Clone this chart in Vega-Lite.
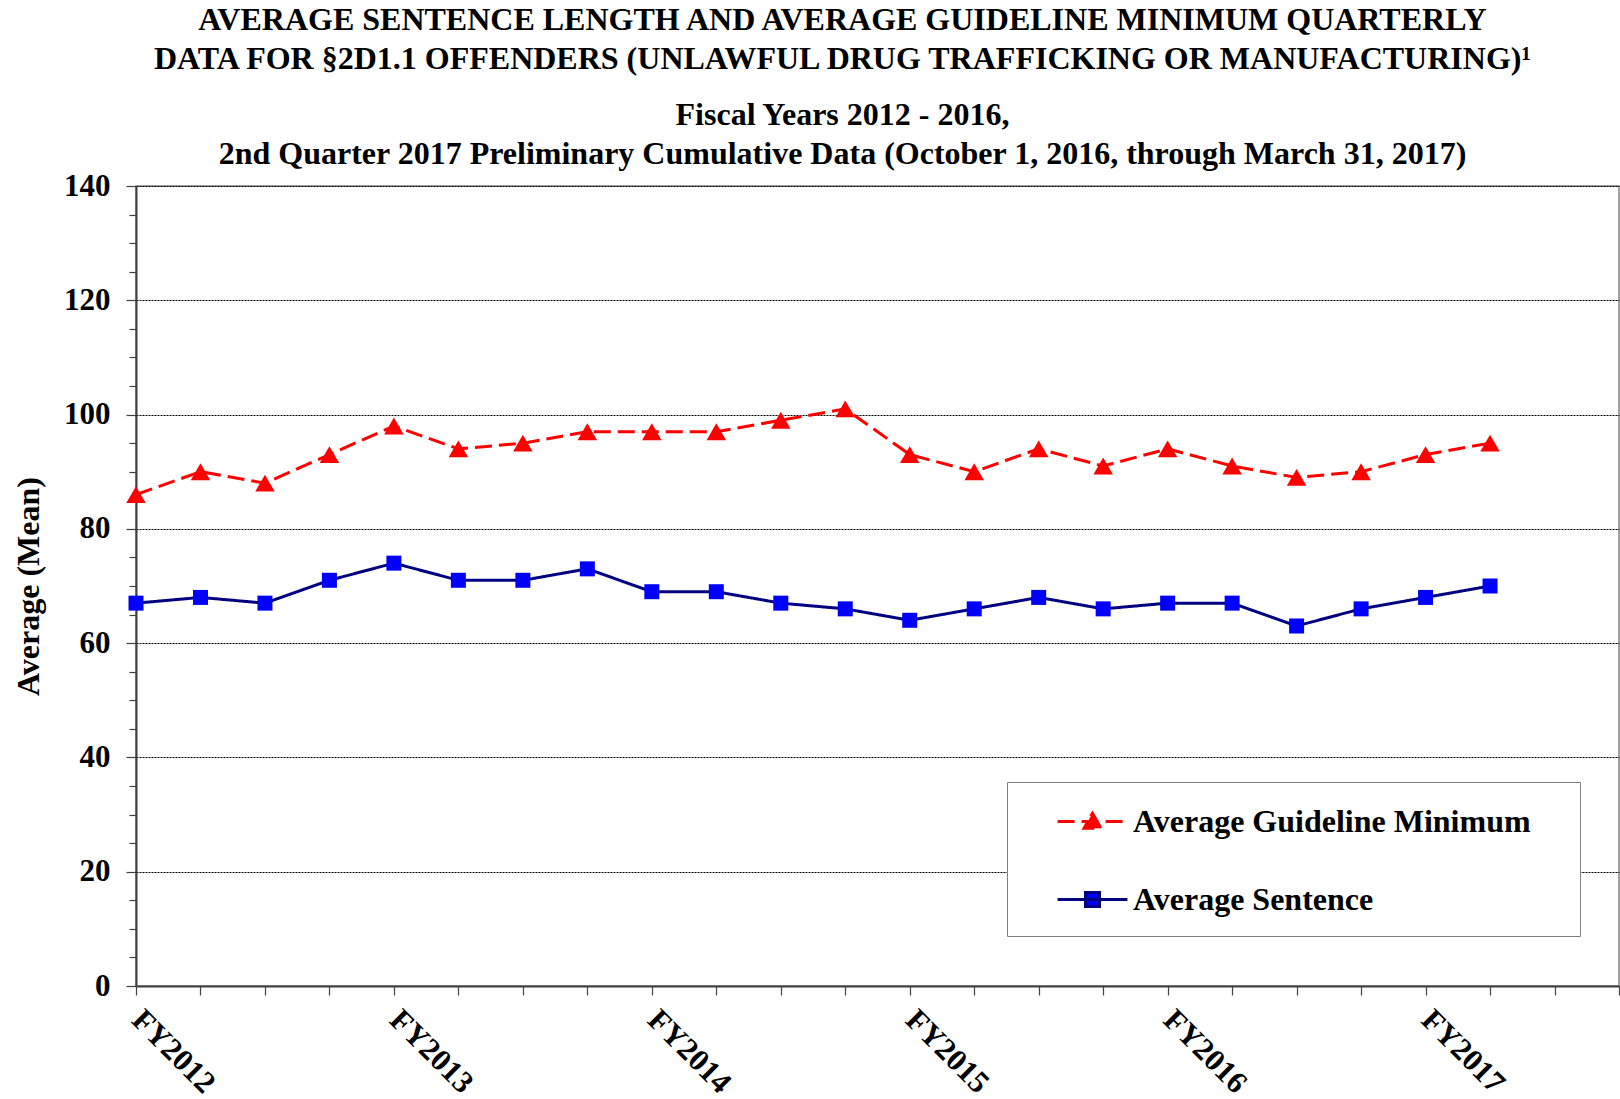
{
  "$schema": "https://vega.github.io/schema/vega-lite/v6.json",
  "autosize": "none",
  "width": 1483,
  "height": 800,
  "padding": {"left": 136, "top": 186, "right": 1, "bottom": 113},
  "background": "white",
  "config": {
    "font": "Liberation Serif",
    "view": {"stroke": "#808080", "strokeWidth": 1.5}
  },
  "title": {
    "text": ["AVERAGE SENTENCE LENGTH AND AVERAGE GUIDELINE MINIMUM QUARTERLY", "DATA FOR §2D1.1 OFFENDERS (UNLAWFUL DRUG TRAFFICKING OR MANUFACTURING)¹"],
    "subtitle": ["Fiscal Years 2012 - 2016,", "2nd Quarter 2017 Preliminary Cumulative Data (October 1, 2016, through March 31, 2017)"],
    "font": "Liberation Serif",
    "fontSize": 32,
    "fontWeight": "bold",
    "color": "black",
    "subtitleFont": "Liberation Serif",
    "subtitleFontSize": 32,
    "subtitleFontWeight": "bold",
    "subtitleColor": "black",
    "lineHeight": 39,
    "subtitleLineHeight": 39,
    "subtitlePadding": 24,
    "anchor": "middle",
    "frame": "group",
    "offset": -1,
    "dx": -35
  },
  "data": {
    "values": [
      {"q": 0, "series": "Average Guideline Minimum", "value": 86},
      {"q": 1, "series": "Average Guideline Minimum", "value": 90},
      {"q": 2, "series": "Average Guideline Minimum", "value": 88},
      {"q": 3, "series": "Average Guideline Minimum", "value": 93},
      {"q": 4, "series": "Average Guideline Minimum", "value": 98},
      {"q": 5, "series": "Average Guideline Minimum", "value": 94},
      {"q": 6, "series": "Average Guideline Minimum", "value": 95},
      {"q": 7, "series": "Average Guideline Minimum", "value": 97},
      {"q": 8, "series": "Average Guideline Minimum", "value": 97},
      {"q": 9, "series": "Average Guideline Minimum", "value": 97},
      {"q": 10, "series": "Average Guideline Minimum", "value": 99},
      {"q": 11, "series": "Average Guideline Minimum", "value": 101},
      {"q": 12, "series": "Average Guideline Minimum", "value": 93},
      {"q": 13, "series": "Average Guideline Minimum", "value": 90},
      {"q": 14, "series": "Average Guideline Minimum", "value": 94},
      {"q": 15, "series": "Average Guideline Minimum", "value": 91},
      {"q": 16, "series": "Average Guideline Minimum", "value": 94},
      {"q": 17, "series": "Average Guideline Minimum", "value": 91},
      {"q": 18, "series": "Average Guideline Minimum", "value": 89},
      {"q": 19, "series": "Average Guideline Minimum", "value": 90},
      {"q": 20, "series": "Average Guideline Minimum", "value": 93},
      {"q": 21, "series": "Average Guideline Minimum", "value": 95},
      {"q": 0, "series": "Average Sentence", "value": 67},
      {"q": 1, "series": "Average Sentence", "value": 68},
      {"q": 2, "series": "Average Sentence", "value": 67},
      {"q": 3, "series": "Average Sentence", "value": 71},
      {"q": 4, "series": "Average Sentence", "value": 74},
      {"q": 5, "series": "Average Sentence", "value": 71},
      {"q": 6, "series": "Average Sentence", "value": 71},
      {"q": 7, "series": "Average Sentence", "value": 73},
      {"q": 8, "series": "Average Sentence", "value": 69},
      {"q": 9, "series": "Average Sentence", "value": 69},
      {"q": 10, "series": "Average Sentence", "value": 67},
      {"q": 11, "series": "Average Sentence", "value": 66},
      {"q": 12, "series": "Average Sentence", "value": 64},
      {"q": 13, "series": "Average Sentence", "value": 66},
      {"q": 14, "series": "Average Sentence", "value": 68},
      {"q": 15, "series": "Average Sentence", "value": 66},
      {"q": 16, "series": "Average Sentence", "value": 67},
      {"q": 17, "series": "Average Sentence", "value": 67},
      {"q": 18, "series": "Average Sentence", "value": 63},
      {"q": 19, "series": "Average Sentence", "value": 66},
      {"q": 20, "series": "Average Sentence", "value": 68},
      {"q": 21, "series": "Average Sentence", "value": 70}
    ]
  },
  "encoding": {
    "x": {
      "field": "q", "type": "quantitative",
      "scale": {"domain": [0, 23], "nice": false, "zero": false},
      "axis": {
        "title": null,
        "values": [0,1,2,3,4,5,6,7,8,9,10,11,12,13,14,15,16,17,18,19,20,21,22,23],
        "labelExpr": "datum.value % 4 == 0 && datum.value <= 20 ? 'FY' + (2012 + datum.value / 4) : ''",
        "labelAngle": 45,
        "labelAlign": "left",
        "labelBaseline": "middle",
        "labelPadding": 20,
        "labelFlush": false,
        "labelOverlap": false,
        "labelFont": "Liberation Serif",
        "labelFontSize": 31,
        "labelFontWeight": "bold",
        "labelColor": "black",
        "grid": false,
        "domainColor": "#404040",
        "domainWidth": 2,
        "tickColor": "#404040",
        "tickWidth": 1.2,
        "tickSize": 9
      }
    },
    "y": {
      "field": "value", "type": "quantitative",
      "scale": {"domain": [0, 140], "nice": false},
      "axis": {
        "title": "Average (Mean)",
        "titleFont": "Liberation Serif",
        "titleFontSize": 32,
        "titleFontWeight": "bold",
        "titleColor": "black",
        "titleX": -108,
        "titleY": 400,
        "titleAngle": -90,
        "titleAlign": "center",
        "titleBaseline": "middle",
        "values": [0,5,10,15,20,25,30,35,40,45,50,55,60,65,70,75,80,85,90,95,100,105,110,115,120,125,130,135,140],
        "labelExpr": "datum.value % 20 == 0 ? datum.label : ''",
        "labelFont": "Liberation Serif",
        "labelFontSize": 31,
        "labelFontWeight": "bold",
        "labelColor": "black",
        "labelPadding": 16,
        "labelOverlap": false,
        "labelFlush": false,
        "grid": true,
        "gridColor": "black",
        "gridDash": [2, 1],
        "gridWidth": 1,
        "gridOpacity": {"condition": {"test": "datum.value % 20 == 0", "value": 1}, "value": 0},
        "tickSize": {"condition": {"test": "datum.value % 20 == 0", "value": 10}, "value": 7},
        "domainColor": "#404040",
        "domainWidth": 2,
        "tickColor": "#404040",
        "tickWidth": 1.2
      }
    }
  },
  "layer": [
    {
      "mark": {"type": "line", "strokeWidth": 3},
      "encoding": {
        "color": {
          "field": "series", "type": "nominal",
          "scale": {"domain": ["Average Guideline Minimum", "Average Sentence"], "range": ["#FF0000", "#000080"]},
          "legend": {
            "title": "x",
            "titleOrient": "right",
            "titleOpacity": 0,
            "titleFontSize": 8,
            "titlePadding": 25,
            "orient": "none",
            "legendX": 871,
            "legendY": 596,
            "strokeColor": "#808080",
            "fillColor": "white",
            "padding": 20,
            "symbolType": "M-1,0H1",
            "symbolSize": 1296,
            "symbolStrokeWidth": 3,
            "symbolOffset": 46,
            "labelFont": "Liberation Serif",
            "labelFontSize": 32,
            "labelFontWeight": "bold",
            "labelColor": "black",
            "labelOffset": 21,
            "labelLimit": 0,
            "rowPadding": 42,
            "encode": {
              "symbols": {
                "update": {
                  "fill": {"signal": "datum.value == 'Average Sentence' ? '#0000FF' : '#FF0000'"},
                  "shape": {"signal": "datum.value == 'Average Sentence' ? 'M-1.94,0H1.94M-0.39,-0.39H0.39V0.39H-0.39Z' : 'M-1.94,0H1.94M0,-0.46L0.47,0.38L-0.47,0.38Z'"}
                }
              }
            }
          }
        },
        "strokeDash": {
          "field": "series", "type": "nominal",
          "scale": {"domain": ["Average Guideline Minimum", "Average Sentence"], "range": [[17, 7], [1, 0]]}
        }
      }
    },
    {
      "transform": [{"filter": "datum.series == 'Average Guideline Minimum'"}],
      "mark": {"type": "point", "shape": "triangle-up", "filled": true, "opacity": 1, "strokeWidth": 0, "color": "#FF0000", "size": 380}
    },
    {
      "transform": [{"filter": "datum.series == 'Average Sentence'"}],
      "mark": {"type": "point", "shape": "square", "filled": true, "opacity": 1, "strokeWidth": 0, "color": "#0000FF", "size": 225}
    }
  ]
}
